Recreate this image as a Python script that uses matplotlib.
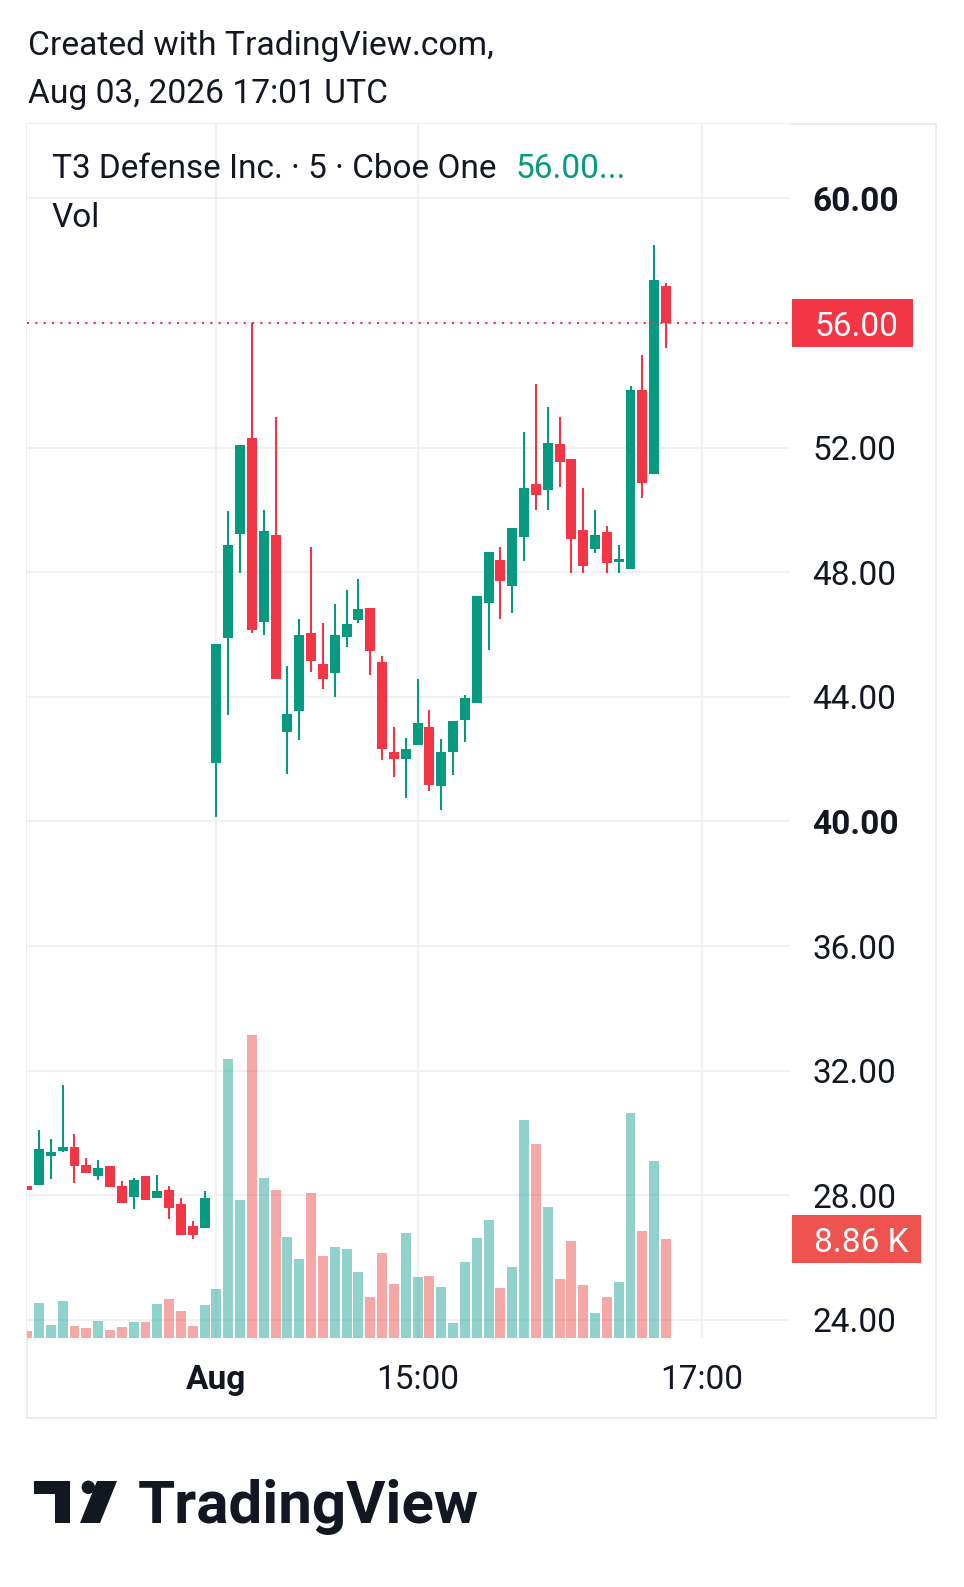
import matplotlib
matplotlib.use("Agg")
import matplotlib.pyplot as plt
import matplotlib.transforms as mtransforms
from matplotlib.patches import Rectangle, Polygon, Ellipse

W, H = 964, 1587
plt.rcParams['font.family'] = ['Roboto', 'DejaVu Sans']

# 5-minute bars, T3 Defense Inc. (Cboe One)
opens = [28.30, 28.33, 29.26, 29.42, 29.55, 28.97, 28.62, 28.94, 28.30, 27.94,
         28.62, 27.91, 28.17, 27.72, 27.01, 26.95,
         41.88, 45.89, 49.23, 52.31, 46.40, 49.20, 42.87, 43.55, 46.05, 45.06,
         44.77, 45.92, 46.47, 46.85, 45.12, 42.23, 42.01, 42.45, 43.03, 41.14,
         42.23, 43.26, 43.80, 47.01, 48.39, 47.56, 49.13, 50.83, 50.64, 52.12,
         51.64, 49.36, 48.75, 49.29, 48.33, 48.11, 53.85, 51.16, 57.19]
highs = [28.30, 30.10, 29.81, 31.54, 29.97, 29.20, 29.13, 28.94, 28.46, 28.55,
         28.62, 28.65, 28.30, 27.91, 27.17, 28.14,
         45.70, 49.97, 52.09, 56.00, 50.00, 52.99, 44.99, 46.50, 48.81, 46.37,
         46.98, 47.43, 47.78, 46.85, 45.31, 43.03, 42.68, 44.57, 43.58, 42.65,
         43.23, 44.06, 47.24, 48.65, 48.81, 49.42, 52.50, 54.04, 53.31, 52.99,
         51.64, 50.71, 50.00, 49.49, 48.88, 53.98, 54.98, 58.51, 57.29]
lows = [28.17, 28.33, 28.52, 29.39, 28.40, 28.72, 28.49, 28.27, 27.75, 27.56,
        27.85, 27.91, 27.24, 26.72, 26.60, 26.95,
        40.14, 43.42, 47.98, 46.06, 45.99, 44.57, 41.52, 42.62, 44.80, 44.25,
        44.00, 45.60, 46.37, 44.70, 41.97, 41.43, 40.75, 42.45, 40.98, 40.37,
        41.49, 42.55, 43.80, 45.51, 46.50, 46.69, 48.36, 50.00, 50.00, 50.74,
        47.98, 47.98, 48.62, 47.98, 47.98, 48.11, 50.39, 51.16, 55.20]
closes = [28.17, 29.49, 29.39, 29.55, 28.94, 28.72, 28.88, 28.27, 27.75, 28.49,
          27.85, 28.14, 27.59, 26.72, 26.72, 27.91,
          45.70, 48.88, 52.09, 46.15, 49.33, 44.57, 43.45, 45.99, 45.15, 44.57,
          45.99, 46.34, 46.82, 45.47, 42.33, 42.01, 42.33, 43.16, 41.17, 42.23,
          43.23, 43.96, 47.24, 48.65, 47.72, 49.42, 50.71, 50.48, 52.15, 51.54,
          49.07, 48.20, 49.20, 48.30, 48.43, 53.85, 50.87, 57.38, 56.00]
# volume in thousands of shares
volumes = [0.63, 3.13, 1.16, 3.31, 1.07, 0.90, 1.52, 0.72, 0.98, 1.43,
           1.43, 3.04, 3.49, 2.42, 1.07, 2.95,
           4.39, 24.97, 12.35, 27.12, 14.32, 13.25, 9.04, 7.07, 12.98, 7.34,
           8.14, 7.97, 5.91, 3.67, 7.61, 4.83, 9.40, 5.46, 5.55, 4.56,
           1.34, 6.80, 8.95, 10.56, 4.48, 6.35, 19.51, 17.36, 11.72, 5.28,
           8.68, 4.74, 2.24, 3.67, 5.01, 20.14, 9.58, 15.84, 8.86]

price_ticks = [24, 28, 32, 36, 40, 44, 48, 52, 60]
grid_levels = [24, 28, 32, 36, 40, 44, 48, 52, 56, 60]
time_ticks = [16, 33, 57]
time_labels = ["Aug", "15:00", "17:00"]

UP = "#089981"
DOWN = "#f23645"
TEXT = "#131722"
GRID = "#f0f1f4"


def fx(px):
    return px / W


def fy(py):
    return 1 - py / H


fig = plt.figure(figsize=(W / 100, H / 100), dpi=100)
rect = [fx(27), fy(1338), fx(790) - fx(27), fy(124) - fy(1338)]
ax = fig.add_axes(rect)                          # grid and scales
axv = fig.add_axes(rect, sharex=ax)              # volume
axc = fig.add_axes(rect, sharex=ax, sharey=ax)   # candles
ax.set_zorder(1)
axv.set_zorder(2)
axc.set_zorder(3)
axv.patch.set_visible(False)
axc.patch.set_visible(False)

x = list(range(len(opens)))
up = [c >= o for o, c in zip(opens, closes)]
cols = [UP if u else DOWN for u in up]
vcols = [(38/255, 166/255, 154/255, 0.5) if u else (239/255, 83/255, 80/255, 0.5) for u in up]

ax.set_xlim(-0.014, 64.48)
ax.set_ylim(23.42, 62.39)
axv.set_ylim(0, 108.65)

# grid
for v in grid_levels:
    ax.axhline(v, color=GRID, lw=1.5, zorder=0)
for t in time_ticks:
    ax.axvline(t, color=GRID, lw=1.5, zorder=0)

# volume
axv.bar(x, volumes, width=0.84, color=vcols, linewidth=0)

# candles
axc.vlines(x, lows, highs, colors=cols, lw=1.5)
bottoms = [min(o, c) for o, c in zip(opens, closes)]
heights = [max(abs(c - o), 0.05) for o, c in zip(opens, closes)]
axc.bar(x, heights, bottom=bottoms, width=0.84, color=cols, linewidth=0)

# last price line
axc.axhline(closes[-1], color=DOWN, lw=1.5, linestyle=(0, (1, 3)))

for a in (ax, axv, axc):
    for s in a.spines.values():
        s.set_visible(False)
axv.set_axis_off()
axc.set_axis_off()

ax.yaxis.tick_right()
ax.set_yticks(price_ticks)
ax.set_yticklabels([f"{v:.2f}" for v in price_ticks])
ax.tick_params(axis='y', length=0, pad=16, labelsize=24, labelcolor=TEXT)
for lbl in ax.get_yticklabels():
    if lbl.get_text() in ("60.00", "40.00"):
        lbl.set_fontweight('bold')

ax.set_xticks(time_ticks)
ax.set_xticklabels(time_labels)
ax.tick_params(axis='x', length=0, pad=19, labelsize=24, labelcolor=TEXT)
ax.get_xticklabels()[0].set_fontweight('bold')

# current price / volume labels on the scale
tp = mtransforms.blended_transform_factory(axc.transAxes, axc.transData)
axc.add_patch(Rectangle((1.0026, closes[-1] - 0.77), 0.1586, 1.54, transform=tp,
                        clip_on=False, color=DOWN, lw=0))
axc.text(1.0865, closes[-1], f"{closes[-1]:.2f}", transform=tp, ha='center',
         va='center_baseline', color='white', fontsize=24, clip_on=False)
tv = mtransforms.blended_transform_factory(axv.transAxes, axv.transData)
axv.add_patch(Rectangle((1.0026, volumes[-1] - 2.15), 0.169, 4.3, transform=tv,
                        clip_on=False, color="#ef5350", lw=0))
axv.text(1.0931, volumes[-1], f"{volumes[-1]:.2f} K", transform=tv, ha='center',
         va='center_baseline', color='white', fontsize=24, clip_on=False)

# pane frame
fig.add_artist(Rectangle((fx(27), fy(1418)), fx(936) - fx(27), fy(124) - fy(1418),
                         transform=fig.transFigure, fill=False, edgecolor='#e9e9ec', lw=1.2))

# header
fig.text(fx(28), fy(55), "Created with TradingView.com,", fontsize=24.2, color=TEXT, va='baseline')
fig.text(fx(28), fy(103), "Aug 03, 2026 17:01 UTC", fontsize=24.2, color=TEXT, va='baseline')
t1 = fig.text(fx(52), fy(178), "T3 Defense Inc. · 5 · Cboe One", fontsize=24, color=TEXT, va='baseline')
renderer = fig.canvas.get_renderer()
x_end = t1.get_window_extent(renderer=renderer).x1
fig.text((x_end + 19) / W, fy(178), f"{closes[-1]:.2f}...", fontsize=24, color=UP, va='baseline')
fig.text(fx(52), fy(227), "Vol", fontsize=24, color=TEXT, va='baseline')

# TradingView logo
fig.add_artist(Polygon([(fx(34), fy(1481)), (fx(70), fy(1481)), (fx(70), fy(1523)),
                        (fx(55), fy(1523)), (fx(55), fy(1494)), (fx(34), fy(1494))],
                       closed=True, transform=fig.transFigure, color=TEXT, lw=0))
fig.add_artist(Ellipse((fx(88.3), fy(1487.3)), 13.4 / W, 13.4 / H,
                       transform=fig.transFigure, color=TEXT, lw=0))
fig.add_artist(Polygon([(fx(97), fy(1481)), (fx(117), fy(1481)), (fx(100), fy(1523)),
                        (fx(80), fy(1523))], closed=True, transform=fig.transFigure,
                       color=TEXT, lw=0))
fig.text(fx(138), fy(1523), "TradingView", fontsize=43.3, fontweight='bold', color=TEXT, va='baseline')

fig.savefig("out.png", dpi=100)
